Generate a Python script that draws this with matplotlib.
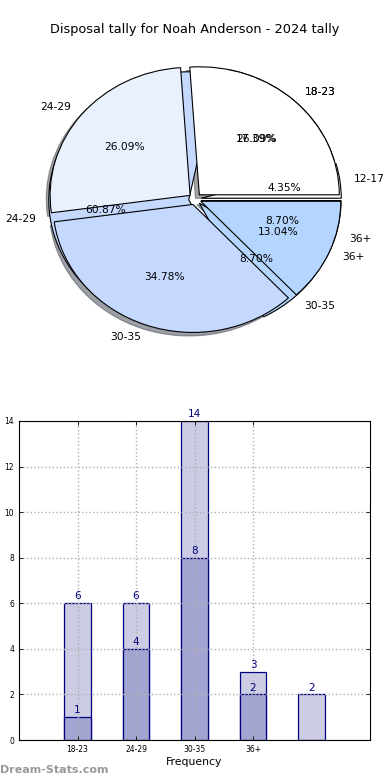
import matplotlib
matplotlib.use("Agg")
import matplotlib.pyplot as plt

# === Data ===
title = "Disposal tally for Noah Anderson - 2024 tally"

# pie drawn underneath
pie_b_labels = ["12-17", "18-23", "24-29", "30-35", "36+"]
pie_b_values = [1, 4, 14, 2, 2]

# pie drawn on top
pie_a_labels = ["18-23", "24-29", "30-35", "36+"]
pie_a_values = [6, 6, 8, 3]

# bar chart
bar_labels = ["18-23", "24-29", "30-35", "36+", ""]
bar_light = [6, 6, 14, 3, 2]
bar_dark = [1, 4, 8, 2]

pie_colors = ["#ffffff", "#eaf1fe", "#c5d8fe", "#b3d5ff"]
light_col = "#ccccE4"
dark_col = "#a3a5d0"
navy = "#000080"

fig = plt.figure(figsize=(3.9, 7.8), dpi=100)
fig.text(0.5, 1 - 30 / 780, title, ha="center", va="center", fontsize=9.3)

# === Pie ===
ax1 = fig.add_axes([20 / 390, 1 - 359 / 780, 350 / 390, 320 / 780])
wp = dict(edgecolor="black", linewidth=0.8)
tp = dict(fontsize=7.7)
ax1.pie(pie_b_values, labels=pie_b_labels, autopct="%.2f%%",
        colors=pie_colors + pie_colors[:1], explode=[0.045] * len(pie_b_values),
        shadow=False, wedgeprops=wp, textprops=tp)
ax1.pie(pie_a_values, labels=pie_a_labels, autopct="%.2f%%",
        colors=pie_colors, explode=[0.045] * len(pie_a_values),
        shadow=True, wedgeprops=wp, textprops=tp)
ax1.set_aspect("auto")
ax1.set_xlim(-1.25, 1.25)
ax1.set_ylim(-1.25, 1.25)

# === Bars ===
ax2 = fig.add_axes([19 / 390, 40 / 780, 351 / 390, 319 / 780])
x_light = list(range(len(bar_light)))
x_dark = list(range(len(bar_dark)))
ax2.bar(x_light, bar_light, width=0.45, color=light_col, edgecolor=navy, linewidth=0.9)
ax2.bar(x_dark, bar_dark, width=0.45, color=dark_col, edgecolor=navy, linewidth=0.9)
for xs, vals in ((x_light, bar_light), (x_dark, bar_dark)):
    for xi, v in zip(xs, vals):
        ax2.text(xi, v + 0.08, str(v), ha="center", va="bottom", color=navy, fontsize=7.5)

ax2.set_xlim(-1, 5)
ax2.set_ylim(0, 14)
ax2.set_yticks(range(0, 15, 2))
ax2.set_xticks(x_light[:4])
ax2.set_xticklabels(bar_labels[:4])
ax2.tick_params(labelsize=5.5, direction="in", top=True, right=True, length=3, width=0.6)
ax2.grid(True, linestyle=":", color="#b0b0b0", linewidth=1.0)
ax2.set_axisbelow("line")
ax2.set_xlabel("Frequency", fontsize=7.8, labelpad=2)
ax2.set_ylabel("Disposal Tally", fontsize=7.8)
ax2.yaxis.set_label_coords(-0.06, 0.5)

fig.text(0.0, 1 - 770 / 780, "Dream-Stats.com", ha="left", va="center",
         fontsize=8, color="#999999", fontweight="bold")

fig.savefig("out.png", dpi=100)
